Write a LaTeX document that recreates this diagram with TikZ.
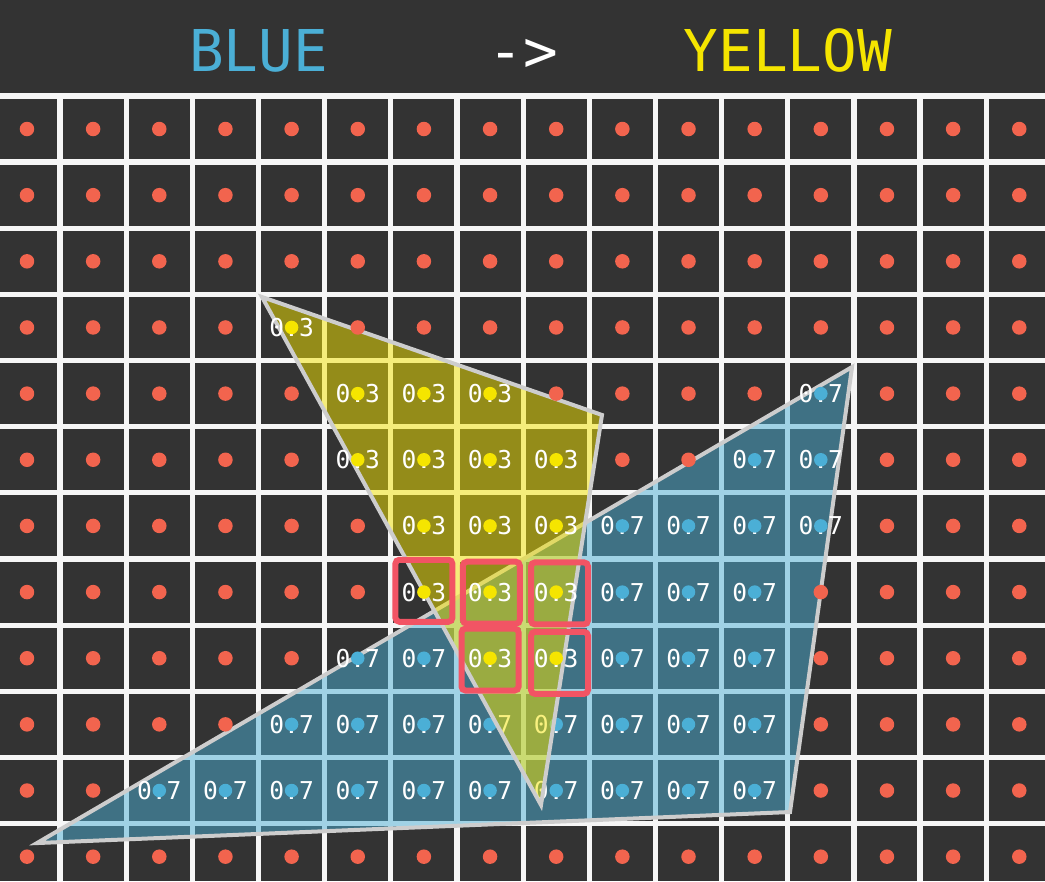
\documentclass[tikz,border=0pt]{standalone}
\usepackage{fontspec}
\newfontfamily\cellmono{DejaVu Sans Mono}
\definecolor{boardbg}{RGB}{51,51,51}
\definecolor{gridwhite}{RGB}{246,246,246}
\definecolor{dotred}{RGB}{242,100,78}
\definecolor{tripblue}{RGB}{75,175,214}
\definecolor{tripyellow}{RGB}{245,229,0}
\definecolor{edgegray}{RGB}{205,205,205}
\definecolor{hitred}{RGB}{242,84,100}
\begin{document}
\begin{tikzpicture}[x=1.323cm,y=-1.323cm,
  gridrule/.style={draw=gridwhite,line width=0.105cm},
  reddot/.style={circle,fill=dotred,inner sep=0pt,minimum size=0.29cm},
  bluedot/.style={circle,fill=tripblue,inner sep=0pt,minimum size=0.27cm},
  yellowdot/.style={circle,fill=tripyellow,inner sep=0pt,minimum size=0.27cm},
  weight/.style={text=white,inner sep=0pt,font=\cellmono\fontsize{14}{14}\selectfont},
  tri/.style={draw=edgegray,line width=0.08cm,fill opacity=0.5},
  hit/.style={draw=hitred,line width=0.12cm,rounded corners=0.08cm,inner sep=0pt,
    minimum width=1.14cm,minimum height=1.24cm},
  title/.style={anchor=base,font=\cellmono\fontsize{32.8}{33}\selectfont}]
\fill[boardbg] (-0.408,-1.950) rectangle (15.389,11.368);
\useasboundingbox (-0.408,-1.950) rectangle (15.389,11.368);

\node[title,text=tripblue] (blue) at (3.5,-0.862) {BLUE};
\node[title,text=white] (arrow) at (7.5,-0.862) {->};
\node[title,text=tripyellow] (yellow) at (11.5,-0.862) {YELLOW};

\foreach \k in {-1,...,15}
  \draw[gridrule] (\k+0.5,-0.5) -- (\k+0.5,11.368);
\foreach \k in {-1,...,10}
  \draw[gridrule] (-0.408,\k+0.5) -- (15.389,\k+0.5);

\coordinate (ba) at (0.151,10.794);
\coordinate (bb) at (12.472,3.598);
\coordinate (bc) at (11.534,10.325);
\coordinate (ya) at (3.553,2.540);
\coordinate (yb) at (8.692,4.323);
\coordinate (yc) at (7.770,10.219);

\draw[tri,fill=tripblue] (ba) -- (bb) -- (bc) -- cycle;
\foreach \r/\cols in {4/{12},5/{11,12},6/{9,10,11,12},7/{9,10,11},8/{5,6,9,10,11},
    9/{4,5,6,7,8,9,10,11},10/{2,3,4,5,6,7,8,9,10,11}}
  \foreach \c in \cols {
    \node[weight] (bw-\r-\c) at (\c,\r) {0.7};
    \node[bluedot] (bd-\r-\c) at (\c,\r) {};
  }

\draw[tri,fill=tripyellow] (ya) -- (yb) -- (yc) -- cycle;
\foreach \r/\cols in {3/{4},4/{5,6,7},5/{5,6,7,8},6/{6,7,8},7/{6,7,8},8/{7,8}}
  \foreach \c in \cols {
    \node[weight] (yw-\r-\c) at (\c,\r) {0.3};
    \node[yellowdot] (yd-\r-\c) at (\c,\r) {};
  }

\foreach \r/\cols in {0/{0,...,15},1/{0,...,15},2/{0,...,15},
    3/{0,1,2,3,5,6,7,8,9,10,11,12,13,14,15},4/{0,1,2,3,4,8,9,10,11,13,14,15},
    5/{0,1,2,3,4,9,10,13,14,15},6/{0,1,2,3,4,5,13,14,15},7/{0,1,2,3,4,5,12,13,14,15},
    8/{0,1,2,3,4,12,13,14,15},9/{0,1,2,3,12,13,14,15},10/{0,1,12,13,14,15},11/{0,...,15}}
  \foreach \c in \cols
    \node[reddot] (rd-\r-\c) at (\c,\r) {};

\node[hit] (hit-7-6) at (6,6.98) {};
\node[hit] (hit-7-7) at (7.02,7.01) {};
\node[hit] (hit-7-8) at (8.05,7.02) {};
\node[hit] (hit-8-7) at (7,8.02) {};
\node[hit] (hit-8-8) at (8.05,8.07) {};
\end{tikzpicture}
\end{document}
